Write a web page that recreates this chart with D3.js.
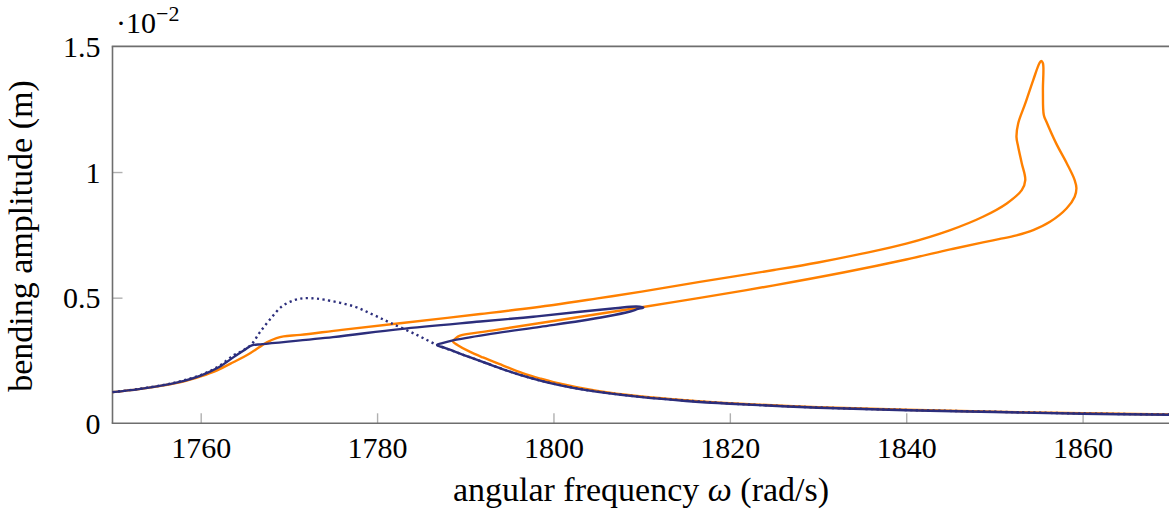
<!DOCTYPE html>
<html>
<head>
<meta charset="utf-8">
<script src="https://cdn.jsdelivr.net/npm/d3@7"></script>
<style>
  html, body { margin: 0; padding: 0; background: #fff; }
  svg text { font-family: "Liberation Serif", "DejaVu Serif", serif; fill: #000; }
</style>
</head>
<body>
<svg id="chart" width="1169" height="512"></svg>
<script>
// ---- data (ω in rad/s, amplitude in 1e-2 m) ----
const xTicks = [1760, 1780, 1800, 1820, 1840, 1860];
const yTicks = [0, 0.5, 1, 1.5];
const yTickLabels = ["0", "0.5", "1", "1.5"];
const xDomain = [1750, 1870];
const yDomain = [0, 1.5];

const orangeOmega = [1750,1753,1756,1758,1760,1761.8,1763.7,1765.6,1767.5,1768.6,1769.4,1771.3,1776,1782.6,1791.7,1800,1805,1810,1816.6,1825,1830,1835,1840,1845,1848.7,1851.4,1853.1,1853.5,1853.1,1852.7,1852.5,1852.7,1853.5,1854.4,1855.1,1855.3,1855.5,1855.5,1855.6,1855.9,1857,1858.2,1859.1,1859.3,1859.1,1858.2,1856.3,1854.4,1852.5,1850.5,1848.7,1845,1840,1833,1825,1816.6,1810,1800,1793,1789.4,1788.9,1788.6,1789.2,1790.5,1792,1794.3,1796.5,1798.5,1800,1805,1810,1815,1820,1830,1840,1850,1860,1870];
const orangeAmp   = [0.124,0.136,0.152,0.166,0.187,0.21,0.243,0.279,0.322,0.339,0.346,0.352,0.372,0.398,0.435,0.471,0.497,0.524,0.563,0.61,0.64,0.675,0.715,0.769,0.822,0.875,0.928,0.968,1.035,1.10,1.14,1.194,1.273,1.366,1.433,1.442,1.433,1.326,1.227,1.20,1.114,1.035,0.968,0.935,0.902,0.856,0.802,0.769,0.748,0.733,0.72,0.692,0.652,0.601,0.549,0.499,0.462,0.407,0.369,0.349,0.338,0.326,0.31,0.285,0.262,0.230,0.200,0.178,0.164,0.129,0.107,0.092,0.08,0.064,0.054,0.046,0.04,0.035];

const blueOmega = [1750,1753,1756,1758,1760,1762,1764,1765.1,1765.8,1767,1775,1782.6,1791.7,1797.7,1803,1807,1809.4,1810.2,1809.6,1808.7,1806,1803,1798.5,1792.4,1788.6,1787.4,1786.8,1787.6,1788.6,1790.5,1792.4,1794.3,1796.2,1798.5,1800,1802.5,1805,1810,1815,1820,1830,1840,1850,1860,1870];
const blueAmp   = [0.124,0.136,0.153,0.168,0.19,0.222,0.27,0.295,0.31,0.315,0.343,0.375,0.405,0.424,0.444,0.458,0.465,0.461,0.455,0.445,0.425,0.407,0.384,0.353,0.33,0.319,0.312,0.301,0.288,0.263,0.239,0.215,0.193,0.170,0.157,0.139,0.125,0.104,0.089,0.078,0.062,0.052,0.045,0.038,0.034];

const dottedOmega = [1750,1753,1756,1758,1760,1762,1763.7,1764.8,1765.8,1766.7,1767.9,1769.2,1770.5,1771.5,1772.5,1774,1777.3,1779.5,1781.5,1784.5,1786.9,1788.6,1790.5,1792.4,1794.3,1796.2,1798.5,1800,1802.5,1805,1810,1820,1830,1840,1850,1860,1870];
const dottedAmp   = [0.124,0.137,0.154,0.17,0.192,0.226,0.27,0.29,0.316,0.362,0.415,0.465,0.489,0.497,0.498,0.492,0.466,0.433,0.4,0.352,0.31,0.288,0.263,0.239,0.215,0.193,0.170,0.158,0.140,0.126,0.105,0.079,0.063,0.053,0.046,0.039,0.035];

// ---- layout ----
const svg = d3.select("#chart");
const mLeft = 112.5, mRight = 1170.8, mTop = 46.4, mBottom = 423.3;
const x = d3.scaleLinear().domain(xDomain).range([mLeft, mRight]);
const y = d3.scaleLinear().domain(yDomain).range([mBottom, mTop]);

const axisColor = "#6e6e6e";
const tickColor = "#b0b0b0";

// ticks (inward)
const gx = svg.append("g").attr("transform", `translate(0,${mBottom})`)
  .call(d3.axisBottom(x).tickValues(xTicks).tickFormat(d3.format("d")).tickSizeInner(-10).tickSizeOuter(0).tickPadding(13));
gx.select(".domain").remove();
gx.selectAll(".tick line").attr("stroke", tickColor).attr("stroke-width", 1.4);
gx.selectAll(".tick text").style("font-size", "30px").attr("dy", "0.71em");

const gy = svg.append("g").attr("transform", `translate(${mLeft},0)`)
  .call(d3.axisLeft(y).tickValues(yTicks).tickFormat((d, i) => yTickLabels[i]).tickSizeInner(-10).tickSizeOuter(0).tickPadding(12));
gy.select(".domain").remove();
gy.selectAll(".tick line").attr("stroke", tickColor).attr("stroke-width", 1.4)
  .attr("opacity", d => (d === 0 || d === 1.5) ? 0 : 1);
gy.selectAll(".tick text").style("font-size", "30px").attr("dy", "0.34em");

// frame
svg.append("line").attr("x1", mLeft).attr("x2", mLeft).attr("y1", mTop).attr("y2", mBottom)
  .attr("stroke", axisColor).attr("stroke-width", 1.6);
svg.append("line").attr("x1", mLeft - 0.8).attr("x2", 1169).attr("y1", mBottom).attr("y2", mBottom)
  .attr("stroke", axisColor).attr("stroke-width", 1.6);
svg.append("line").attr("x1", mLeft - 0.8).attr("x2", 1169).attr("y1", mTop).attr("y2", mTop)
  .attr("stroke", axisColor).attr("stroke-width", 1.6);

// curves
const line = d3.line().x(d => x(d[0])).y(d => y(d[1])).curve(d3.curveCatmullRom.alpha(0.5));
const zip = (a, b) => a.map((v, i) => [v, b[i]]);

svg.append("path").datum(zip(orangeOmega, orangeAmp)).attr("d", line)
  .attr("fill", "none").attr("stroke", "#ff8000").attr("stroke-width", 2.4).attr("stroke-linejoin", "round");
svg.append("path").datum(zip(blueOmega, blueAmp)).attr("d", line)
  .attr("fill", "none").attr("stroke", "#2c2e7c").attr("stroke-width", 2.4).attr("stroke-linejoin", "round");
svg.append("path").datum(zip(dottedOmega, dottedAmp)).attr("d", line)
  .attr("fill", "none").attr("stroke", "#2c2e7c").attr("stroke-width", 2.4).attr("stroke-dasharray", "2.2 3.4");

// scale label ·10^-2
const sc = svg.append("text").attr("x", 116).attr("y", 33).style("font-size", "30px");
sc.append("tspan").text("·10");
sc.append("tspan").attr("dy", -12).style("font-size", "22px").text("−2");

// axis labels
const xl = svg.append("text").attr("x", 641).attr("y", 501).attr("text-anchor", "middle").style("font-size", "34px");
xl.append("tspan").text("angular frequency ");
xl.append("tspan").style("font-style", "italic").text("ω");
xl.append("tspan").text(" (rad/s)");

svg.append("text").attr("transform", "translate(32,236) rotate(-90)")
  .attr("text-anchor", "middle").style("font-size", "34px").text("bending amplitude (m)");
</script>
</body>
</html>
